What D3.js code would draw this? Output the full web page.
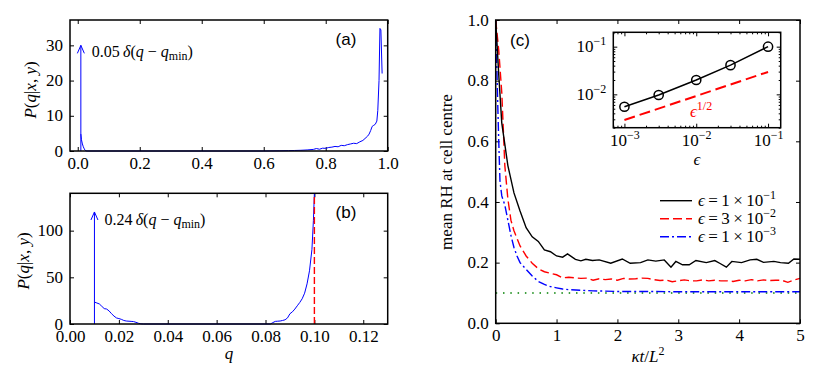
<!DOCTYPE html>
<html>
<head>
<meta charset="utf-8">
<script src="https://cdn.jsdelivr.net/npm/d3@7"></script>
<style>
body { margin: 0; background: #fff; }
svg text { font-family: "Liberation Serif", "DejaVu Serif", serif; fill: #000; }
.panel-label { font-family: "Liberation Sans", Arial, sans-serif !important; font-size: 17px; }
</style>
</head>
<body>
<svg id="fig" width="830" height="383"></svg>
<script>
// panel (a): conditional pdf, wide range of q
var qA = [0.01,0.012,0.015,0.018,0.02,0.023,0.026,0.03,0.2,0.4,0.6,0.62,0.65,0.68,0.7,0.72,0.74,0.76,0.77,0.78,0.79,0.8,0.81,0.82,0.83,0.84,0.85,0.86,0.87,0.88,0.89,0.9,0.91,0.92,0.93,0.935,0.94,0.945,0.95,0.955,0.96,0.965,0.968,0.972,0.975,0.978,0.982];
var pA = [4.8,3.2,2.0,1.2,0.8,0.3,0.05,0,0,0,0,0.02,0.05,0.1,0.15,0.2,0.3,0.45,0.7,0.5,0.8,0.75,1.0,1.1,1.3,1.2,1.6,1.5,1.8,2.0,2.2,2.1,2.6,3.0,3.8,4.2,4.8,5.8,7.0,7.3,7.6,8.5,11.5,20,34.8,34.4,22.0];

// panel (b): narrow range of q
var qB = [0.01,0.011,0.012,0.013,0.014,0.015,0.016,0.017,0.018,0.019,0.02,0.021,0.022,0.023,0.025,0.026,0.027,0.028,0.029,0.03,0.06,0.082,0.083,0.084,0.085,0.086,0.087,0.088,0.089,0.09,0.091,0.092,0.093,0.094,0.095,0.096,0.097,0.098,0.099,0.0996,0.1];
var pB = [23.5,22.5,21.5,19,16.5,16,14,11,8.5,6.5,5.8,5,3.8,3.2,2.8,2.6,1.8,0.8,0.2,0,0,0,1.5,2.8,3,3.2,3.8,4.5,6.5,11,13,16,19.5,23,27,33,43,57,80,111,140];

// delta spikes at q_min (panel a, panel b)
var qMin = 0.01;
var deltaWeights = ["0.05", "0.24"];
var deltaHeights = [30, 120];
var qSat = 0.1;

// tick values
var xTicksA = [0, 0.2, 0.4, 0.6, 0.8, 1.0];
var yTicksA = [0, 10, 20, 30];
var xTicksB = [0, 0.02, 0.04, 0.06, 0.08, 0.10, 0.12];
var yTicksB = [0, 50, 100];
var xTicksC = [0, 1, 2, 3, 4, 5];
var yTicksC = [0, 0.2, 0.4, 0.6, 0.8, 1.0];
var xTicksI = [1e-3, 1e-2, 1e-1];
var yTicksI = [1e-2, 1e-1];

// panel (c): mean RH at cell centre
var tBlack = [0,0.05,0.1,0.2,0.3,0.4,0.5,0.6,0.7,0.8,0.9,1.0,1.1,1.18,1.31,1.4,1.48,1.59,1.7,1.89,2.08,2.21,2.38,2.5,2.63,2.77,2.88,2.96,3.07,3.18,3.29,3.46,3.6,3.68,3.79,3.88,4.04,4.18,4.29,4.4,4.57,4.68,4.81,4.9,5.0];
var rhBlack = [1.0,0.82,0.66,0.52,0.43,0.37,0.315,0.285,0.27,0.242,0.236,0.222,0.218,0.229,0.211,0.206,0.211,0.207,0.209,0.198,0.212,0.198,0.2,0.209,0.205,0.209,0.185,0.204,0.193,0.193,0.207,0.2,0.207,0.198,0.185,0.204,0.2,0.209,0.211,0.201,0.204,0.2,0.198,0.212,0.211];
var tRed = [0,0.05,0.1,0.15,0.2,0.25,0.3,0.4,0.5,0.6,0.7,0.8,0.9,1.0,1.1,1.2,1.3,1.4,1.5,1.6,1.7,1.8,1.9,2.0,2.1,2.2,2.3,2.4,2.5,2.6,2.7,2.8,2.9,3.0,3.1,3.2,3.3,3.4,3.5,3.6,3.7,3.8,3.9,4.0,4.1,4.2,4.3,4.4,4.5,4.6,4.7,4.8,4.9,5.0];
var rhRed = [1.0,0.9,0.76,0.52,0.41,0.34,0.305,0.255,0.222,0.198,0.18,0.17,0.165,0.16,0.15,0.152,0.15,0.148,0.149,0.142,0.147,0.144,0.146,0.142,0.148,0.146,0.147,0.149,0.148,0.144,0.141,0.143,0.137,0.14,0.143,0.14,0.14,0.143,0.14,0.142,0.14,0.14,0.138,0.142,0.14,0.144,0.14,0.143,0.141,0.142,0.142,0.135,0.143,0.148];
var tBlue = [0,0.03,0.05,0.07,0.1,0.15,0.2,0.25,0.3,0.35,0.4,0.5,0.6,0.7,0.8,0.9,1.0,1.1,1.2,1.4,1.6,1.8,2.0,2.5,3.0,3.5,4.0,4.5,5.0];
var rhBlue = [1.0,0.75,0.6,0.47,0.42,0.39,0.34,0.29,0.25,0.222,0.2,0.178,0.156,0.138,0.128,0.121,0.117,0.113,0.111,0.109,0.107,0.106,0.105,0.105,0.104,0.104,0.104,0.104,0.104];
var rhFloor = 0.1;
var tSpan = [0, 5];
var legendMant = ["1", "3", "1"];
var legendExp = ["1", "2", "3"];

// inset: excess RH vs epsilon
var epsVals = [0.001, 0.003, 0.01, 0.03, 0.1];
var excessVals = [0.0055, 0.0097, 0.02, 0.041, 0.1];
var refEps = [0.001, 0.1];
var refVals = [0.0029, 0.0295];

var svg = d3.select("#fig");
var FONT = '"Liberation Serif", "DejaVu Serif", serif';

function it(s) { return "<tspan font-style='italic'>" + s + "</tspan>"; }

function drawAxes(g, x, y, xTicks, yTicks, xFmt, yFmt) {
   var x0 = x.range()[0], x1 = x.range()[1], y0 = y.range()[0], y1 = y.range()[1];

   g.append("g").attr("class", "ax-bottom").attr("transform", "translate(0," + y0 + ")")
      .call(d3.axisBottom(x).tickValues(xTicks).tickSize(-4).tickFormat(xFmt))
      .call(function(a) {
         a.select(".domain").remove();
         a.attr("font-family", FONT).attr("font-size", 17);
         a.selectAll("text").attr("y", 18).attr("dy", 0);
      });
   g.append("g").attr("transform", "translate(0," + y1 + ")")
      .call(d3.axisTop(x).tickValues(xTicks).tickSize(-4).tickFormat(""))
      .call(function(a) { a.select(".domain").remove(); a.selectAll("text").remove(); });
   g.append("g").attr("class", "ax-left").attr("transform", "translate(" + x0 + ",0)")
      .call(d3.axisLeft(y).tickValues(yTicks).tickSize(-4).tickPadding(7).tickFormat(yFmt))
      .call(function(a) {
         a.select(".domain").remove();
         a.attr("font-family", FONT).attr("font-size", 17);
         a.selectAll("text").attr("dy", "0.3em");
      });
   g.append("g").attr("transform", "translate(" + x1 + ",0)")
      .call(d3.axisRight(y).tickValues(yTicks).tickSize(-4).tickFormat(""))
      .call(function(a) { a.select(".domain").remove(); a.selectAll("text").remove(); });
}

function drawFrame(g, x, y) {
   var x0 = x.range()[0], x1 = x.range()[1], y0 = y.range()[0], y1 = y.range()[1];
   g.append("rect")
      .attr("x", x0).attr("y", y1)
      .attr("width", x1 - x0).attr("height", y0 - y1)
      .attr("fill", "none").attr("stroke", "#000").attr("stroke-width", 1.5);
}

function drawArrow(g, px, pyBase, pyTop) {
   g.append("line")
      .attr("x1", px).attr("x2", px).attr("y1", pyBase).attr("y2", pyTop)
      .attr("stroke", "#0000ff").attr("stroke-width", 1);
   g.append("path")
      .attr("d", "M" + (px - 3.5) + "," + (pyTop + 8) + "L" + px + "," + pyTop + "L" + (px + 3.5) + "," + (pyTop + 8))
      .attr("fill", "none").attr("stroke", "#0000ff").attr("stroke-width", 1);
}

function deltaText(w) {
   return w + "\u2009" + it("\u03b4") + "(" + it("q") + " \u2212 " + it("q") +
      "<tspan dy='3' font-size='12'>min</tspan><tspan dy='-3'>)</tspan>";
}

// ---------- panel (a)
var xA = d3.scaleLinear().domain([-0.025, 1.0]).range([70, 387.7]);
var yA = d3.scaleLinear().domain([0, 37.2]).range([151, 20]);
var gA = svg.append("g");
drawAxes(gA, xA, yA, xTicksA, yTicksA, d3.format(".1f"), d3.format("d"));

var lineA = d3.line().x(function(d, i) { return xA(qA[i]); }).y(function(d) { return yA(d); });
gA.append("path").datum(pA).attr("d", lineA)
   .attr("fill", "none").attr("stroke", "#0000ff").attr("stroke-width", 1);
drawArrow(gA, xA(qMin), yA(0), yA(deltaHeights[0]));
gA.append("text").attr("x", xA(qMin) + 11).attr("y", yA(deltaHeights[0]) + 12)
   .attr("font-size", 16).html(deltaText(deltaWeights[0]));
drawFrame(gA, xA, yA);
gA.append("text").attr("class", "panel-label").attr("x", 346).attr("y", 45)
   .attr("text-anchor", "middle").text("(a)");
gA.append("text").attr("transform", "translate(36,90) rotate(-90)")
   .attr("text-anchor", "middle").attr("font-size", 17)
   .html(it("P") + "(" + it("q") + "|" + it("x") + ", " + it("y") + ")");

// ---------- panel (b)
var xB = d3.scaleLinear().domain([0, 0.13]).range([70, 387.7]);
var yB = d3.scaleLinear().domain([0, 140]).range([324, 193.3]);
var gB = svg.append("g");
drawAxes(gB, xB, yB, xTicksB, yTicksB, d3.format(".2f"), d3.format("d"));

var lineB = d3.line().x(function(d, i) { return xB(qB[i]); }).y(function(d) { return yB(d); });
gB.append("path").datum(pB).attr("d", lineB)
   .attr("fill", "none").attr("stroke", "#0000ff").attr("stroke-width", 1);
gB.append("line")
   .attr("x1", xB(qSat)).attr("x2", xB(qSat)).attr("y1", yB(0)).attr("y2", yB(140))
   .attr("stroke", "#ff0000").attr("stroke-width", 1.4).attr("stroke-dasharray", "7,3");
drawArrow(gB, xB(qMin), yB(0), yB(deltaHeights[1]));
gB.append("text").attr("x", xB(qMin) + 10).attr("y", yB(deltaHeights[1]) + 13)
   .attr("font-size", 16).html(deltaText(deltaWeights[1]));
drawFrame(gB, xB, yB);
gB.append("text").attr("class", "panel-label").attr("x", 346).attr("y", 218)
   .attr("text-anchor", "middle").text("(b)");
gB.append("text").attr("transform", "translate(29,261) rotate(-90)")
   .attr("text-anchor", "middle").attr("font-size", 17)
   .html(it("P") + "(" + it("q") + "|" + it("x") + ", " + it("y") + ")");
gB.append("text").attr("x", 229).attr("y", 359).attr("text-anchor", "middle")
   .attr("font-size", 17).html(it("q"));

// ---------- panel (c)
var xC = d3.scaleLinear().domain([0, 5]).range([495.7, 800]);
var yC = d3.scaleLinear().domain([0, 1]).range([323.3, 20]);
var gC = svg.append("g");
drawAxes(gC, xC, yC, xTicksC, yTicksC, d3.format("d"), d3.format(".1f"));

var series = [
   { t: tBlack, v: rhBlack, color: "#000", dash: null },
   { t: tRed, v: rhRed, color: "#ff0000", dash: "9,4" },
   { t: tBlue, v: rhBlue, color: "#0000ff", dash: "9,3,2,3" }
];

gC.append("line")
   .attr("x1", xC(tSpan[0])).attr("x2", xC(tSpan[1])).attr("y1", yC(rhFloor)).attr("y2", yC(rhFloor))
   .attr("stroke", "#008000").attr("stroke-width", 1.6).attr("stroke-dasharray", "1.5,5.8");

series.slice().reverse().forEach(function(s) {
   var ln = d3.line().x(function(d, i) { return xC(s.t[i]); }).y(function(d) { return yC(d); });
   gC.append("path").datum(s.v).attr("d", ln)
      .attr("fill", "none").attr("stroke", s.color).attr("stroke-width", 1.4)
      .attr("stroke-dasharray", s.dash);
});

// legend
var leg = gC.selectAll(".leg").data(series).enter().append("g").attr("class", "leg")
   .attr("transform", function(d, i) { return "translate(660," + (200.7 + i * 18) + ")"; });
leg.append("line").attr("x1", 0).attr("x2", 32).attr("y1", 0).attr("y2", 0)
   .attr("stroke", function(d) { return d.color; }).attr("stroke-width", 1.4)
   .attr("stroke-dasharray", function(d) { return d.dash; });
leg.append("text").attr("x", 38).attr("y", 5).attr("font-size", 17)
   .html(function(d, i) {
      return it("\u03f5") + "\u2009=\u2009" + legendMant[i] + "\u2009\u00d7\u200910" +
         "<tspan dy='-7' font-size='12'>\u2212" + legendExp[i] + "</tspan>";
   });

drawFrame(gC, xC, yC);
gC.append("text").attr("class", "panel-label").attr("x", 520).attr("y", 46)
   .attr("text-anchor", "middle").text("(c)");
gC.append("text").attr("transform", "translate(452,172) rotate(-90)")
   .attr("text-anchor", "middle").attr("font-size", 17).text("mean RH at cell centre");
gC.append("text").attr("x", 648).attr("y", 362).attr("text-anchor", "middle")
   .attr("font-size", 17)
   .html(it("\u03bat") + "/" + it("L") + "<tspan dy='-7' font-size='12'>2</tspan>");

// ---------- inset
var xI = d3.scaleLog().domain([7e-4, 0.15]).range([613.3, 780.7]);
var yI = d3.scaleLog().domain([0.002, 0.2]).range([127.7, 32.3]);
var gI = svg.append("g");
gI.append("rect").attr("x", 613.3).attr("y", 32.3).attr("width", 167.4).attr("height", 95.4).attr("fill", "#fff");

function minors(dom) {
   var out = [];
   [1e-4, 1e-3, 1e-2, 1e-1].forEach(function(dec) {
      for (var m = 2; m <= 9; m++) {
         var v = m * dec;
         if (v >= dom[0] * 0.999 && v <= dom[1] * 1.001) out.push(v);
      }
   });
   return out;
}

var blankFmt = function(d) { return ""; };
drawAxes(gI, xI, yI, xTicksI, yTicksI, blankFmt, blankFmt);
gI.selectAll(".ax-bottom .tick text, .ax-left .tick text").html(function(d) {
   return "10<tspan dy='-7' font-size='12'>\u2212" + Math.round(-Math.log10(d)) + "</tspan>";
});
// minor ticks
[["bottom", 127.7], ["top", 32.3]].forEach(function(p) {
   var ax = p[0] == "bottom" ? d3.axisBottom(xI) : d3.axisTop(xI);
   gI.append("g").attr("transform", "translate(0," + p[1] + ")")
      .call(ax.tickValues(minors(xI.domain())).tickSize(-2).tickFormat(""))
      .call(function(a) { a.select(".domain").remove(); a.selectAll("text").remove(); });
});
[["left", 613.3], ["right", 780.7]].forEach(function(p) {
   var ax = p[0] == "left" ? d3.axisLeft(yI) : d3.axisRight(yI);
   gI.append("g").attr("transform", "translate(" + p[1] + ",0)")
      .call(ax.tickValues(minors(yI.domain())).tickSize(-2).tickFormat(""))
      .call(function(a) { a.select(".domain").remove(); a.selectAll("text").remove(); });
});

var refLine = d3.line().x(function(d, i) { return xI(refEps[i]); }).y(function(d) { return yI(d); });
gI.append("path").datum(refVals).attr("d", refLine)
   .attr("fill", "none").attr("stroke", "#ff0000").attr("stroke-width", 2).attr("stroke-dasharray", "11,5");
var excLine = d3.line().x(function(d, i) { return xI(epsVals[i]); }).y(function(d) { return yI(d); });
gI.append("path").datum(excessVals).attr("d", excLine)
   .attr("fill", "none").attr("stroke", "#000").attr("stroke-width", 1.5);
gI.selectAll(".pt").data(excessVals).enter().append("circle")
   .attr("cx", function(d, i) { return xI(epsVals[i]); })
   .attr("cy", function(d) { return yI(d); })
   .attr("r", 4.6).attr("fill", "none").attr("stroke", "#000").attr("stroke-width", 1.5);
gI.append("text").attr("x", 690).attr("y", 116.5).attr("font-size", 17).style("fill", "#ff0000")
   .html(it("\u03f5") + "<tspan dy='-7' font-size='12'>1/2</tspan>");
drawFrame(gI, xI, yI);
gI.append("text").attr("x", 697).attr("y", 165).attr("text-anchor", "middle")
   .attr("font-size", 17).html(it("\u03f5"));
</script>
</body>
</html>
